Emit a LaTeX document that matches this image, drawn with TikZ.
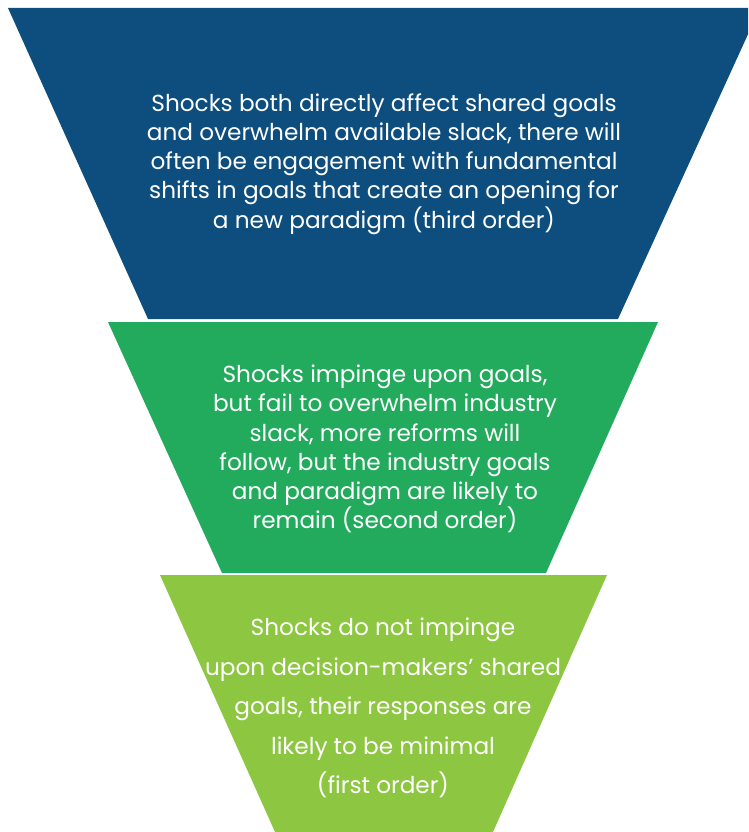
\documentclass[tikz,border=0pt]{standalone}
\usepackage{fontspec}
\setmainfont{Poppins}
\definecolor{topblue}{HTML}{0D4E7E}
\definecolor{midgreen}{HTML}{23AB5D}
\definecolor{lowgreen}{HTML}{8DC641}
\tikzset{
  tier/.style={draw=none},
  tiertext/.style={text=white, align=center, font=\fontsize{23.2}{29.2}\selectfont, inner sep=0pt},
  lowtext/.style={text=white, align=center, font=\fontsize{23.2}{39.5}\selectfont, inner sep=0pt}
}
\begin{document}
\begin{tikzpicture}[x=1pt,y=-1pt]
\useasboundingbox (0,0) rectangle (748,832);
\clip (0,0) rectangle (748,832);
\fill[tier, topblue] (8,8) -- (760,8) -- (618,319) -- (148,319) -- cycle;
\fill[tier, midgreen] (108,322) -- (658,322) -- (546,573) -- (222,573) -- cycle;
\fill[tier, lowgreen] (160,575) -- (607,575) -- (493,832) -- (275,832) -- cycle;
\node[tiertext] (toptext) at (384,164) {Shocks both directly affect shared goals\\and overwhelm available slack, there will\\often be engagement with fundamental\\shifts in goals that create an opening for\\a new paradigm (third order)};
\node[tiertext] (midtext) at (385,449) {Shocks impinge upon goals,\\but fail to overwhelm industry\\slack, more reforms will\\follow, but the industry goals\\and paradigm are likely to\\remain (second order)};
\node[lowtext] (lowtext) at (383,708) {Shocks do not impinge\\upon decision-makers’ shared\\goals, their responses are\\likely to be minimal\\(first order)};
\end{tikzpicture}
\end{document}
